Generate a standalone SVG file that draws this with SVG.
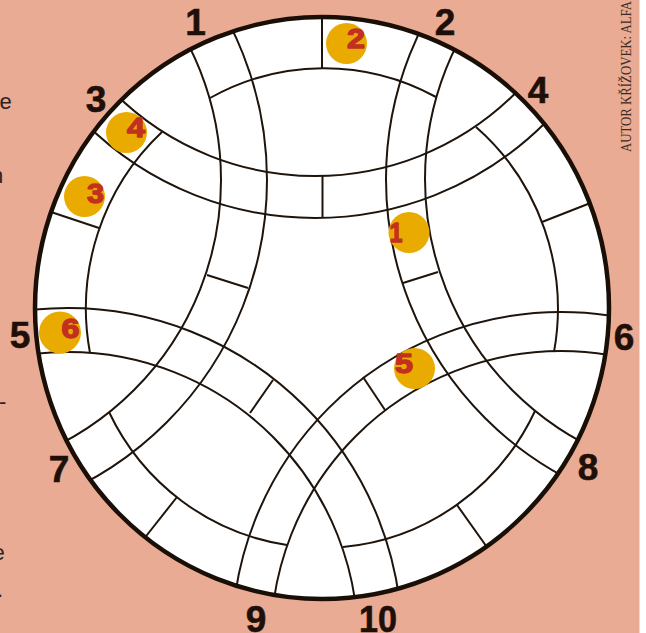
<svg xmlns="http://www.w3.org/2000/svg" width="646" height="633" viewBox="0 0 646 633">
<defs>
<clipPath id="disc"><ellipse cx="322" cy="308" rx="287" ry="291"/></clipPath>
<style>
.ln{fill:none;stroke:#1e140c;stroke-width:2}
.rim{fill:none;stroke:#1a0f07;stroke-width:4.5}
.badge circle{fill:#eaab00}
.badge text{font-family:"Liberation Sans",Arial,sans-serif;font-weight:bold;font-size:27px;fill:#c2301f;stroke:#c2301f;stroke-width:1.3;stroke-linejoin:round;text-anchor:middle}
.lbl{font-family:"Liberation Sans",Arial,sans-serif;font-weight:bold;font-size:37px;fill:#1e1008;stroke:#1e1008;stroke-width:0.6;text-anchor:middle}
.side{font-family:"Liberation Sans",Arial,sans-serif;font-size:22px;fill:#2b2420}
.credit{font-family:"Liberation Serif","Times New Roman",serif;font-size:14px;fill:#3b2b25}
</style>
</defs>
<rect width="646" height="633" fill="#ffffff"/>
<rect width="639.5" height="633" fill="#e9ab93"/>

<g id="side-text">
<text class="side" x="-0.5" y="109">e</text>
<text class="side" x="-9" y="183">n</text>
<text class="side" x="-1" y="409">-</text>
<text class="side" x="-7.5" y="560">e</text>
<text class="side" x="-3" y="597">.</text>
<text class="credit" transform="translate(631,152) rotate(-90)" textLength="151" lengthAdjust="spacingAndGlyphs">AUTOR KŘÍŽOVEK: ALFA</text>
</g>

<ellipse id="disc-fill" cx="322" cy="308" rx="287" ry="291" fill="#ffffff"/>

<g id="connectors" clip-path="url(#disc)">
<g id="bands" class="ln">
<circle cx="315" cy="-108" r="284"/>
<circle cx="315" cy="-108" r="326"/>
<circle cx="724" cy="179" r="299"/>
<circle cx="724" cy="179" r="338"/>
<circle cx="-76" cy="180" r="297"/>
<circle cx="-76" cy="180" r="343"/>
<circle cx="68" cy="642" r="290"/>
<circle cx="68" cy="642" r="334"/>
<circle cx="561" cy="641" r="290"/>
<circle cx="561" cy="641" r="329"/>
</g>
<g id="ring" class="ln">
<path d="M210,98 A236,240 0 0 1 436,97"/>
<path d="M476,127 A236,240 0 0 1 554,352"/>
<path d="M535,411 A236,240 0 0 1 343,547"/>
<path d="M287,545 A236,240 0 0 1 109,412"/>
<path d="M90,353 A236,240 0 0 1 162,132"/>
</g>
<g id="dividers" class="ln">
<path d="M322,12 L322,68"/>
<path d="M322.5,176 L322.5,218"/>
<path d="M42,209 L99,228"/>
<path d="M207,275 L248,288"/>
<path d="M273,380 L250,413"/>
<path d="M177,497 L143,540"/>
<path d="M457,505 L489,550"/>
<path d="M542,222 L593,202"/>
<path d="M403,283 L438,272"/>
<path d="M363,377 L385,410"/>
</g>
</g>

<ellipse id="rim" class="rim" cx="322" cy="308" rx="287" ry="291"/>

<g id="badge-1" class="badge"><circle cx="409" cy="232.5" r="20.5"/><text x="396" y="242" textLength="13" lengthAdjust="spacingAndGlyphs">1</text></g>
<g id="badge-2" class="badge"><circle cx="346.5" cy="43.5" r="20.5"/><text x="356" y="48" textLength="18" lengthAdjust="spacingAndGlyphs">2</text></g>
<g id="badge-3" class="badge"><circle cx="84.5" cy="196.5" r="20.5"/><text x="95.5" y="203" textLength="17" lengthAdjust="spacingAndGlyphs">3</text></g>
<g id="badge-4" class="badge"><circle cx="126.5" cy="132.5" r="20.5"/><text x="136" y="137" textLength="18" lengthAdjust="spacingAndGlyphs">4</text></g>
<g id="badge-5" class="badge"><circle cx="414.5" cy="368.5" r="20.5"/><text x="404" y="373" textLength="18" lengthAdjust="spacingAndGlyphs">5</text></g>
<g id="badge-6" class="badge"><circle cx="60" cy="332.5" r="21"/><text x="70.5" y="338" textLength="18" lengthAdjust="spacingAndGlyphs">6</text></g>

<g id="labels">
<text class="lbl" x="195.5" y="35">1</text>
<text class="lbl" x="445" y="35">2</text>
<text class="lbl" x="96" y="112">3</text>
<text class="lbl" x="538" y="103">4</text>
<text class="lbl" x="20" y="348">5</text>
<text class="lbl" x="624" y="350">6</text>
<text class="lbl" x="59" y="482">7</text>
<text class="lbl" x="588" y="480">8</text>
<text class="lbl" x="256" y="632">9</text>
<text class="lbl" x="378" y="632" textLength="38" lengthAdjust="spacingAndGlyphs">10</text>
</g>
</svg>
